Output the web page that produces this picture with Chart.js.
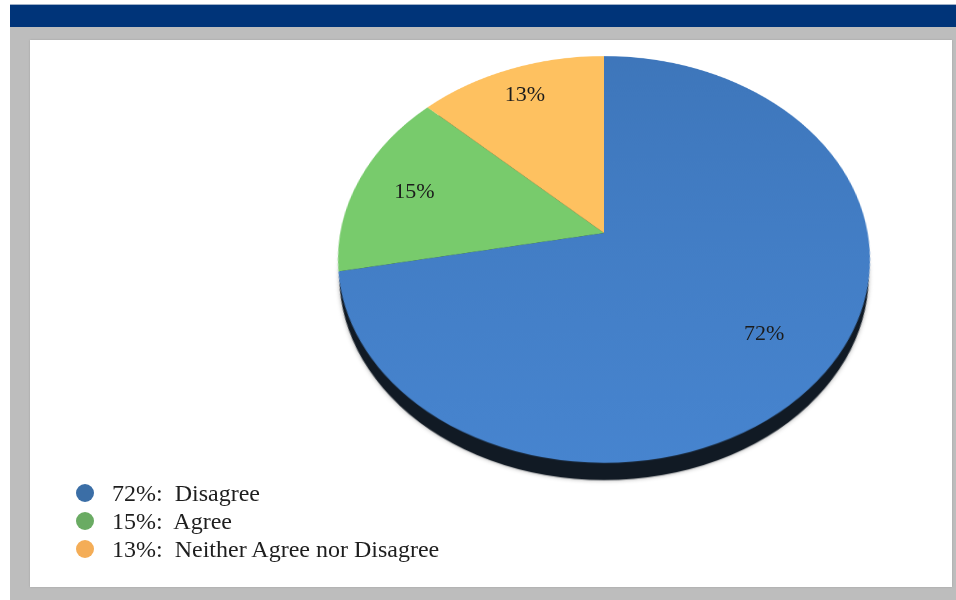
<!DOCTYPE html>
<html>
<head>
<meta charset="utf-8">
<script src="https://cdn.jsdelivr.net/npm/chart.js@4/dist/chart.umd.min.js"></script>
<style>
  html,body{margin:0;padding:0;background:#fff;width:956px;height:600px;overflow:hidden;font-family:"Liberation Serif","DejaVu Serif",serif;position:relative;}
  #band{position:absolute;left:10px;top:4px;width:946px;height:23px;background:#003479;border-top:1px solid #9fb0c8;box-sizing:border-box;}
  #frame{position:absolute;left:10px;top:27px;width:946px;height:573px;background:#bdbdbd;}
  #panel{position:absolute;left:30px;top:40px;width:922px;height:547px;background:#fff;box-shadow:0 0 2px rgba(0,0,0,0.15);}
  #c{position:absolute;left:304px;top:-67px;width:600px;height:600px;transform-origin:50% 50%;}
  #labels{position:absolute;left:0;top:0;width:956px;height:600px;pointer-events:none;}
  #labels .lb{position:absolute;font-size:22px;color:#1c1c1c;transform:translate(-50%,-50%);white-space:nowrap;}
  #legend{position:absolute;left:76px;top:479px;font-size:24px;color:#1e1e1e;line-height:28px;}
  #legend .it{display:flex;align-items:center;height:28px;white-space:pre;}
  #legend .dot{width:18px;height:18px;border-radius:50%;margin-right:18px;}
</style>
</head>
<body>
<div id="band"></div>
<div id="frame"></div>
<div id="panel"></div>
<canvas id="c" width="600" height="600"></canvas>
<div id="labels"></div>
<div id="legend"></div>
<script>
const categories = ["Disagree", "Agree", "Neither Agree nor Disagree"];
const values = [72, 15, 13];
const sliceColors = ["#4079be", "#78cb6c", "#fec160"];
const legendColors = ["#3b6ea6", "#6aab63", "#f4ad57"];

// tilt of the pie (CSS perspective view)
const TILT_DEG = 40.7;
const PERSPECTIVE = 1320;
const LABEL_RADIUS = [0.74, 0.77, 0.83];

const canvas = document.getElementById('c');
canvas.style.transform = 'perspective(' + PERSPECTIVE + 'px) rotateX(' + TILT_DEG + 'deg)';

function project(u, v) {
  const a = TILT_DEG * Math.PI / 180;
  const z = v * Math.sin(a);
  const f = PERSPECTIVE / (PERSPECTIVE - z);
  return {X: u * f, Y: v * Math.cos(a) * f};
}

const depthPlugin = {
  id: 'depth',
  beforeDatasetsDraw(chart) {
    const arc = chart.getDatasetMeta(0).data[0];
    const {x, y, outerRadius} = arc.getProps(['x','y','outerRadius'], true);
    const ctx = chart.ctx;
    ctx.save();
    ctx.beginPath();
    ctx.arc(x, y + 21, outerRadius - 4, 0, Math.PI * 2);
    ctx.fillStyle = '#111a24';
    ctx.shadowColor = 'rgba(0,0,0,0.35)';
    ctx.shadowBlur = 4;
    ctx.fill();
    ctx.restore();
  },
  afterDraw(chart) {
    const meta = chart.getDatasetMeta(0);
    const total = values.reduce((a, b) => a + b, 0);
    const box = document.getElementById('labels');
    box.innerHTML = '';
    const cx = canvas.offsetLeft + canvas.offsetWidth / 2;
    const cy = canvas.offsetTop + canvas.offsetHeight / 2;
    meta.data.forEach((el, i) => {
      const p = el.getProps(['x','y','startAngle','endAngle','outerRadius'], true);
      const mid = (p.startAngle + p.endAngle) / 2;
      const r = p.outerRadius * LABEL_RADIUS[i];
      const u = p.x + Math.cos(mid) * r - chart.width / 2;
      const v = p.y + Math.sin(mid) * r - chart.height / 2;
      const q = project(u, v);
      const d = document.createElement('div');
      d.className = 'lb';
      d.textContent = Math.round(values[i] / total * 100) + '%';
      d.style.left = (cx + q.X) + 'px';
      d.style.top = (cy + q.Y) + 'px';
      box.appendChild(d);
    });
  }
};

function sliceFill(context) {
  const i = context.dataIndex;
  const chart = context.chart;
  if (i !== 0 || !chart.chartArea) return sliceColors[i];
  const g = chart.ctx.createLinearGradient(0, 0, 0, chart.height);
  g.addColorStop(0, '#3d75b9');
  g.addColorStop(1, '#4785d0');
  return g;
}

new Chart(canvas, {
  type: 'pie',
  data: {
    labels: categories,
    datasets: [{
      data: values,
      backgroundColor: sliceFill,
      borderWidth: 0
    }]
  },
  options: {
    responsive: false,
    animation: false,
    radius: 263.7,
    layout: {padding: 0},
    plugins: {legend: {display: false}, tooltip: {enabled: false}}
  },
  plugins: [depthPlugin]
});

const leg = document.getElementById('legend');
categories.forEach((c, i) => {
  const it = document.createElement('div');
  it.className = 'it';
  const d = document.createElement('span');
  d.className = 'dot';
  d.style.background = legendColors[i];
  const t = document.createElement('span');
  t.textContent = values[i] + '%:  ' + c;
  it.appendChild(d); it.appendChild(t);
  leg.appendChild(it);
});
</script>
</body>
</html>
